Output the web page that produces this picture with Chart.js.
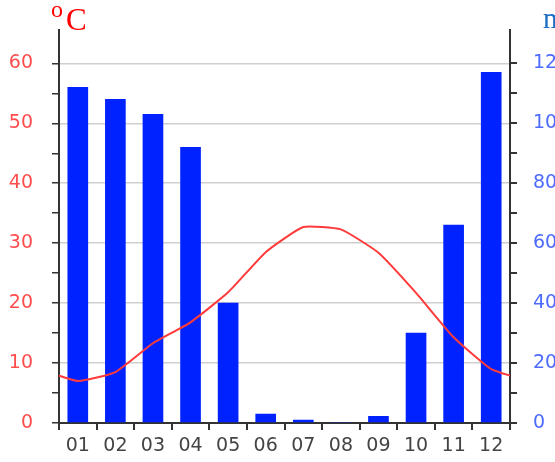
<!DOCTYPE html>
<html>
<head>
<meta charset="utf-8">
<script src="https://cdn.jsdelivr.net/npm/chart.js@4"></script>
<style>
  html, body { margin: 0; padding: 0; overflow: hidden; background: #fff; }
  #wrap { width: 600px; height: 462px; }
</style>
</head>
<body>
<div id="wrap"><canvas id="myChart" width="600" height="462"></canvas></div>
<script>
const months = ["01", "02", "03", "04", "05", "06", "07", "08", "09", "10", "11", "12"];
const precipitation = [112, 108, 103, 92, 40, 3, 1, 0, 2.2, 30, 66, 117];
const temperature = [7, 8.5, 13.3, 16.8, 21.8, 28.5, 32.7, 32.3, 28.4, 21.7, 14.3, 9];
const tempTicks = [0, 10, 20, 30, 40, 50, 60];
const rainTicks = [0, 20, 40, 60, 80, 100, 120];

// months sit at the middle of each unit on a linear x axis
const barPoints = [];
for (let i = 0; i < precipitation.length; i++) {
  barPoints.push({ x: i + 0.5, y: precipitation[i] });
}
// line wraps round the year so it runs to both axis edges
const linePoints = [{ x: -0.5, y: temperature[11] }];
for (let i = 0; i < temperature.length; i++) {
  linePoints.push({ x: i + 0.5, y: temperature[i] });
}
linePoints.push({ x: 12.5, y: temperature[0] });

Chart.defaults.font.family = "'DejaVu Sans'";
Chart.defaults.animation = false;

const axisTitles = {
  id: "axisTitles",
  afterDraw(chart) {
    const c = chart.ctx;
    c.save();
    c.textBaseline = "alphabetic";
    c.fillStyle = "#ff0000";
    c.font = "24px 'Liberation Serif'";
    c.fillText("o", 51, 17);
    c.font = "31px 'Liberation Serif'";
    c.fillText("C", 66, 30);
    c.fillStyle = "#1a6ec4";
    c.font = "29px 'Liberation Serif'";
    c.fillText("mm", 543, 28);
    c.restore();
  },
};

const ctx = document.getElementById("myChart");

new Chart(ctx, {
  type: "bar",
  data: {
    datasets: [
      {
        type: "line",
        data: linePoints,
        yAxisID: "y",
        borderColor: "#ff3b3b",
        borderWidth: 2,
        pointRadius: 0,
        tension: 0.15,
        order: 0,
      },
      {
        type: "bar",
        data: barPoints,
        yAxisID: "y1",
        backgroundColor: "#0022ff",
        barThickness: 20,
        order: 1,
      },
    ],
  },
  options: {
    responsive: false,
    layout: { padding: { top: 30, left: 0, right: 0, bottom: 0 } },
    plugins: {
      legend: { display: false },
      tooltip: { enabled: false },
    },
    scales: {
      x: {
        type: "linear",
        min: 0,
        max: 12,
        offset: false,
        afterFit: (s) => { s.height = 39; },
        border: { color: "#333", width: 2 },
        grid: {
          offset: false,
          drawOnChartArea: false,
          tickLength: 7,
          lineWidth: 2,
          tickColor: (c) => (c.tick && Number.isInteger(c.tick.value) ? "#333" : "rgba(0,0,0,0)"),
        },
        ticks: {
          stepSize: 0.5,
          autoSkip: false,
          maxRotation: 0,
          color: "#444",
          font: { size: 19 },
          padding: 5,
          callback: (v) => (Number.isInteger(v) ? "" : months[Math.floor(v)]),
        },
      },
      y: {
        position: "left",
        min: 0,
        max: 65.5,
        afterFit: (s) => { s.width = 59; },
        afterBuildTicks: (s) => { s.ticks = s.ticks.filter((t) => t.value <= 60); },
        border: { color: "#333", width: 2 },
        grid: {
          color: (c) => (c.tick && tempTicks.includes(c.tick.value) && c.tick.value > 0 ? "#cfcfcf" : "rgba(0,0,0,0)"),
          tickColor: "#333",
          tickLength: 7,
          lineWidth: 1.5,
        },
        ticks: {
          stepSize: 5,
          color: "#ff4d4d",
          font: { size: 19 },
          padding: 19,
          callback: (v) => (tempTicks.includes(v) ? v : ""),
        },
      },
      y1: {
        position: "right",
        min: 0,
        max: 131,
        afterFit: (s) => { s.width = 90; },
        afterBuildTicks: (s) => { s.ticks = s.ticks.filter((t) => t.value <= 120); },
        border: { color: "#333", width: 2 },
        grid: { drawOnChartArea: false, tickColor: "#333", tickLength: 7, lineWidth: 2 },
        ticks: {
          stepSize: 10,
          color: "#4d6bff",
          font: { size: 19 },
          padding: 16,
          callback: (v) => (rainTicks.includes(v) ? v : ""),
        },
      },
    },
  },
  plugins: [axisTitles],
});
</script>
</body>
</html>
